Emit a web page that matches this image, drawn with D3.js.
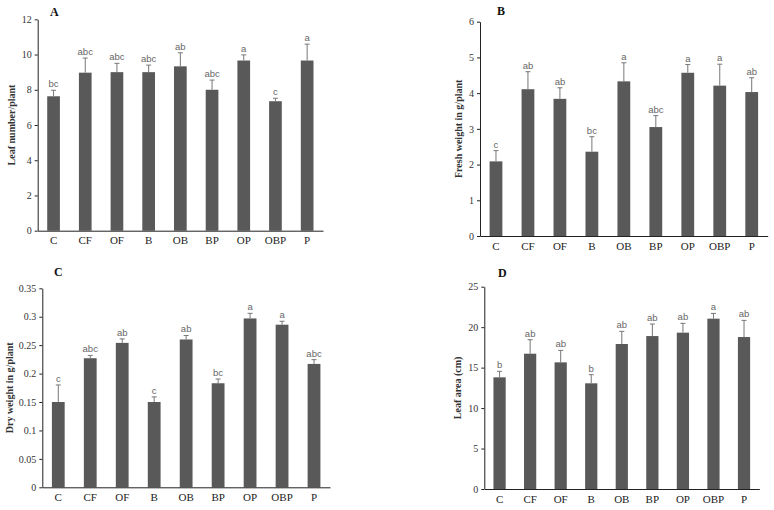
<!DOCTYPE html>
<html>
<head>
<meta charset="utf-8">
<script src="https://cdn.jsdelivr.net/npm/d3@7"></script>
<style>
  html, body { margin: 0; padding: 0; background: #fff; }
  svg { display: block; }
</style>
</head>
<body>
<svg id="chart" width="774" height="510"></svg>
<script>
// ---- data ----
const categories = ["C", "CF", "OF", "B", "OB", "BP", "OP", "OBP", "P"];

const leafNumber    = [7.63, 8.97, 9.0, 9.0, 9.33, 8.0, 9.66, 7.35, 9.66];
const leafNumberErr = [0.34, 0.83, 0.5, 0.4, 0.77, 0.55, 0.32, 0.17, 0.93];
const leafNumberSig = ["bc", "abc", "abc", "abc", "ab", "abc", "a", "c", "a"];

const freshWeight    = [2.09, 4.11, 3.84, 2.36, 4.33, 3.05, 4.57, 4.21, 4.03];
const freshWeightErr = [0.30, 0.49, 0.31, 0.42, 0.52, 0.32, 0.23, 0.60, 0.40];
const freshWeightSig = ["c", "ab", "ab", "bc", "a", "abc", "a", "a", "ab"];

const dryWeight    = [0.150, 0.227, 0.254, 0.150, 0.260, 0.183, 0.297, 0.286, 0.217];
const dryWeightErr = [0.030, 0.005, 0.007, 0.009, 0.007, 0.0075, 0.009, 0.006, 0.0075];
const dryWeightSig = ["c", "abc", "ab", "c", "ab", "bc", "a", "a", "abc"];

const leafArea    = [13.8, 16.72, 15.65, 13.06, 17.92, 18.9, 19.32, 21.05, 18.78];
const leafAreaErr = [0.74, 1.73, 1.48, 1.07, 1.56, 1.49, 1.15, 0.65, 2.06];
const leafAreaSig = ["b", "ab", "ab", "b", "ab", "ab", "ab", "a", "ab"];

const ticksA = [0, 2, 4, 6, 8, 10, 12];
const ticksB = [0, 1, 2, 3, 4, 5, 6];
const ticksC = [0, 0.05, 0.1, 0.15, 0.2, 0.25, 0.3, 0.35];
const ticksD = [0, 5, 10, 15, 20, 25];

// ---- layout ----
const panels = [
  { label: "A", title: "Leaf number/plant", values: leafNumber, errs: leafNumberErr, sig: leafNumberSig,
    ticks: ticksA, x0: 37.7, x1: 323, yTop: 19.3, yBot: 230.7, titleX: 13, labelX: 50, labelY: 16 },
  { label: "B", title: "Fresh weight in g/plant", values: freshWeight, errs: freshWeightErr, sig: freshWeightSig,
    ticks: ticksB, x0: 480, x1: 767.7, yTop: 21.7, yBot: 236, titleX: 460, labelX: 497, labelY: 15 },
  { label: "C", title: "Dry weight in g/plant", values: dryWeight, errs: dryWeightErr, sig: dryWeightSig,
    ticks: ticksC, x0: 42.3, x1: 330, yTop: 288.3, yBot: 487.3, titleX: 10.5, labelX: 54, labelY: 276 },
  { label: "D", title: "Leaf area (cm)", values: leafArea, errs: leafAreaErr, sig: leafAreaSig,
    ticks: ticksD, x0: 484.3, x1: 759.3, yTop: 286.7, yBot: 489, titleX: 458.5, labelX: 498, labelY: 277 }
];

const svg = d3.select("#chart");
const serif = "'Liberation Serif', 'Times New Roman', serif";
const sans = "'Liberation Sans', Arial, sans-serif";
const barColor = "#595959";

panels.forEach(p => {
  const g = svg.append("g");
  const yMax = p.ticks[p.ticks.length - 1];
  const x = d3.scaleBand().domain(categories).range([p.x0, p.x1]).paddingInner(0.6).paddingOuter(0.3);
  const y = d3.scaleLinear().domain([0, yMax]).range([p.yBot, p.yTop]);

  // bars
  g.selectAll("rect.bar").data(categories).join("rect")
    .attr("class", "bar")
    .attr("x", d => x(d))
    .attr("width", x.bandwidth())
    .attr("y", (d, i) => y(p.values[i]))
    .attr("height", (d, i) => y(0) - y(p.values[i]))
    .attr("fill", barColor);

  // error bars (upper whisker)
  const eb = g.selectAll("g.err").data(categories).join("g").attr("class", "err");
  eb.append("line")
    .attr("x1", d => x(d) + x.bandwidth() / 2)
    .attr("x2", d => x(d) + x.bandwidth() / 2)
    .attr("y1", (d, i) => y(p.values[i]))
    .attr("y2", (d, i) => y(p.values[i] + p.errs[i]))
    .attr("stroke", "#777").attr("stroke-width", 1);
  eb.append("line")
    .attr("x1", d => x(d) + x.bandwidth() / 2 - 2.5)
    .attr("x2", d => x(d) + x.bandwidth() / 2 + 2.5)
    .attr("y1", (d, i) => y(p.values[i] + p.errs[i]))
    .attr("y2", (d, i) => y(p.values[i] + p.errs[i]))
    .attr("stroke", "#777").attr("stroke-width", 1);

  // significance letters
  g.selectAll("text.sig").data(categories).join("text")
    .attr("class", "sig")
    .attr("x", d => x(d) + x.bandwidth() / 2)
    .attr("y", (d, i) => y(p.values[i] + p.errs[i]) - 3)
    .attr("text-anchor", "middle")
    .attr("font-family", sans)
    .attr("font-size", "9.5px")
    .attr("fill", "#666")
    .text((d, i) => p.sig[i]);

  // y axis
  const yAxis = d3.axisLeft(y).tickValues(p.ticks).tickSize(3).tickSizeOuter(0)
    .tickFormat(d => d3.format("~g")(d));
  const ya = g.append("g").attr("transform", `translate(${p.x0},0)`).call(yAxis);
  ya.select(".domain").attr("stroke", "#222");
  ya.selectAll(".tick line").attr("stroke", "#222");
  ya.selectAll(".tick text").attr("font-family", serif).attr("font-size", "10px").attr("fill", "#333").attr("x", -6);

  // x axis
  const xAxis = d3.axisBottom(x).tickSize(0).tickSizeOuter(0);
  const xa = g.append("g").attr("transform", `translate(0,${p.yBot})`).call(xAxis);
  xa.select(".domain").attr("stroke", "#222");
  xa.selectAll(".tick text").attr("font-family", serif).attr("font-size", "11px").attr("fill", "#222").attr("dy", "0.71em").attr("y", 6);

  // y title
  g.append("text")
    .attr("transform", `translate(${p.titleX},${(p.yTop + p.yBot) / 2}) rotate(-90)`)
    .attr("text-anchor", "middle")
    .attr("dominant-baseline", "middle")
    .attr("font-family", serif)
    .attr("font-weight", "bold")
    .attr("font-size", "10px")
    .attr("fill", "#333")
    .text(p.title);

  // panel label
  g.append("text")
    .attr("x", p.labelX).attr("y", p.labelY)
    .attr("font-family", serif)
    .attr("font-weight", "bold")
    .attr("font-size", "12px")
    .attr("fill", "#111")
    .text(p.label);
});
</script>
</body>
</html>
